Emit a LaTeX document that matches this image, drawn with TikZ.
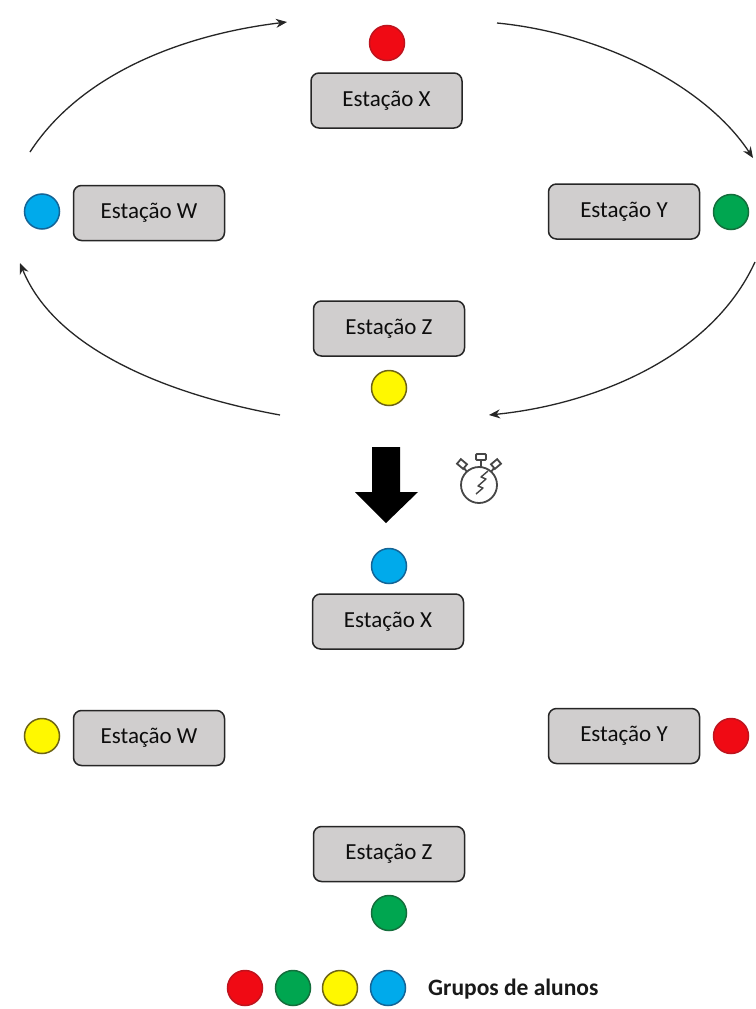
\documentclass[tikz,border=0pt]{standalone}
\usepackage{fontspec}
\setmainfont{Carlito}
\usetikzlibrary{arrows.meta}
\definecolor{boxfill}{RGB}{208,206,206}
\definecolor{gRedF}{RGB}{240,10,20}
\definecolor{gRedD}{RGB}{190,20,30}
\definecolor{gGreenF}{RGB}{0,166,80}
\definecolor{gGreenD}{RGB}{20,110,60}
\definecolor{gYellowF}{RGB}{255,248,0}
\definecolor{gYellowD}{RGB}{110,100,20}
\definecolor{gBlueF}{RGB}{0,170,235}
\definecolor{gBlueD}{RGB}{20,100,150}
\definecolor{watch}{RGB}{70,70,70}
\begin{document}
\begin{tikzpicture}[x=1pt,y=-1pt,
  station/.style={draw=black!85, fill=boxfill, rounded corners=8pt, line width=1.5pt,
    minimum width=151pt, minimum height=55pt, inner sep=0pt,
    font=\fontsize{23}{26}\selectfont, text=black!95},
  grp/.style={circle, minimum size=35pt, inner sep=0pt, line width=1.5pt},
  gred/.style={grp, fill=gRedF, draw=gRedD},
  ggreen/.style={grp, fill=gGreenF, draw=gGreenD},
  gyellow/.style={grp, fill=gYellowF, draw=gYellowD},
  gblue/.style={grp, fill=gBlueF, draw=gBlueD},
  flow/.style={-{Stealth[length=11pt,width=9pt]}, line width=1.3pt, black!85},
  legendtext/.style={font=\bfseries\fontsize{23.5}{27}\selectfont, text=black!90, inner sep=0pt, anchor=west}]
\useasboundingbox (0,0) rectangle (755,1009);
\fill[white] (0,0) rectangle (755,1009);

% ---------- top configuration ----------
\node[station] (tx) at (386.5,100.5) {Estação X};
\node[station] (tw) at (149,213) {Estação W};
\node[station] (ty) at (624,211.5) {Estação Y};
\node[station] (tz) at (389,328.5) {Estação Z};
\node[gred] (tcx) at (387,43) {};
\node[gblue] (tcw) at (42,211.5) {};
\node[ggreen] (tcy) at (731,212) {};
\node[gyellow] (tcz) at (389,388) {};

% rotation arrows
\coordinate (a1s) at (30,152);   \coordinate (a1e) at (287,22);
\coordinate (a2s) at (497,23);   \coordinate (a2e) at (753,158);
\coordinate (a3s) at (755,262);  \coordinate (a3e) at (489,415);
\coordinate (a4s) at (280,415);  \coordinate (a4e) at (20,263);
\draw[flow] (a1s) .. controls (80,75) and (180,35) .. (a1e);
\draw[flow] (a2s) .. controls (600,33) and (705,85) .. (a2e);
\draw[flow] (a3s) .. controls (710,360) and (590,405) .. (a3e);
\draw[flow] (a4s) .. controls (170,395) and (55,350) .. (a4e);

% big down arrow
\coordinate (big) at (386,485);
\fill[black] (372,447) -- (400,447) -- (400,492) -- (418,492) -- (386,523)
  -- (355,492) -- (372,492) -- cycle;

% stopwatch
\coordinate (sw) at (479,485);
\begin{scope}[draw=watch, line width=1.8pt]
  \draw (sw) circle (18);
  \draw (481,467) -- (481,460);
  \draw[fill=white, rounded corners=1pt] (476,454) rectangle (486,460);
  \draw (467,472) -- (464,468);
  \draw (491,472) -- (494,468);
  \draw[rotate around={-40:(462,464)}, fill=white] (458,461) rectangle (466,467);
  \draw[rotate around={40:(496,464)}, fill=white] (492,461) rectangle (500,467);
  \draw[line width=1.4pt, line join=round] (476,494) -- (483,488) -- (478,486) -- (486,479) -- (481,477) -- (488,471);
\end{scope}

% ---------- bottom configuration ----------
\node[station] (bx) at (388,621.5) {Estação X};
\node[station] (bw) at (149,738) {Estação W};
\node[station] (by) at (624,736) {Estação Y};
\node[station] (bz) at (389,854) {Estação Z};
\node[gblue] (bcx) at (389,566) {};
\node[gyellow] (bcw) at (42,736) {};
\node[gred] (bcy) at (731,736) {};
\node[ggreen] (bcz) at (389,913) {};

% ---------- legend ----------
\node[gred] (l1) at (245,988) {};
\node[ggreen] (l2) at (293,988) {};
\node[gyellow] (l3) at (340,988) {};
\node[gblue] (l4) at (388,988) {};
\node[legendtext] (lt) at (428,989) {Grupos de alunos};
\end{tikzpicture}
\end{document}
